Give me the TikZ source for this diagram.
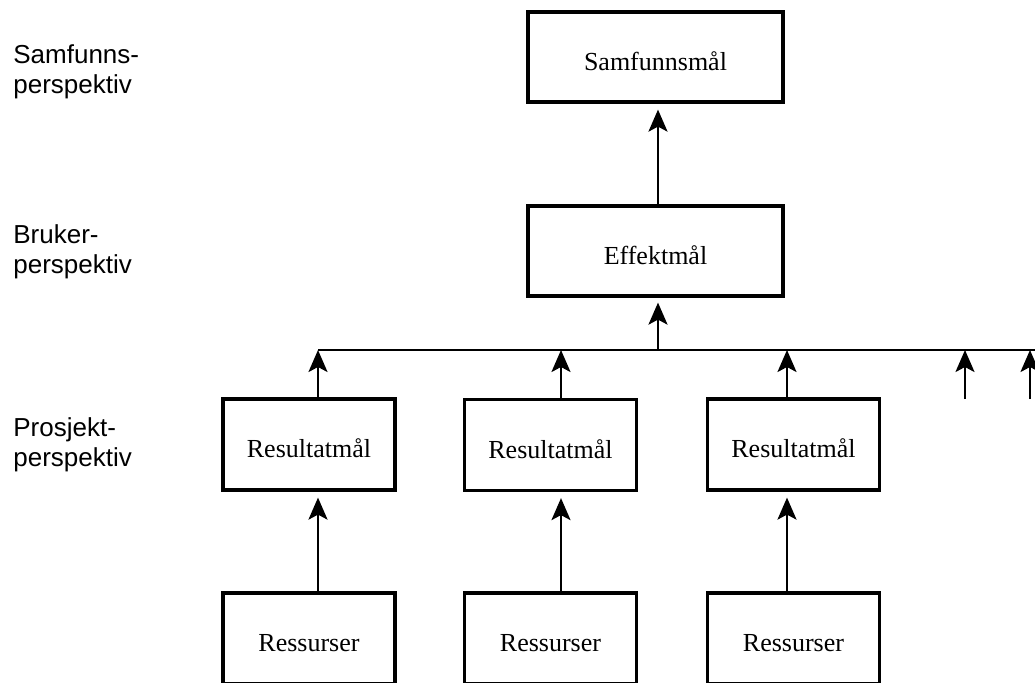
\documentclass[tikz,border=0pt]{standalone}
\usepackage{fontspec}
\setmainfont{Liberation Serif}
\newfontfamily\labelfont{Liberation Sans}
\usetikzlibrary{arrows.meta,calc}

\tikzset{
  goalbox/.style={draw, line width=1.6pt, inner sep=0pt,
    text height=13pt, text depth=0pt,
    font=\fontsize{13pt}{15pt}\selectfont},
  widebox/.style={goalbox, minimum width=127.5pt, minimum height=45pt},
  colbox/.style={goalbox, minimum width=86pt, minimum height=45.5pt},
  link/.style={line width=1.2pt},
  uparrow/.style={link, -{Stealth[length=11pt,width=9.5pt,inset=2.5pt]}},
  levellabel/.style={anchor=base west, align=left, inner sep=0pt,
    font=\labelfont\fontsize{13pt}{15pt}\selectfont}
}

\begin{document}
\begin{tikzpicture}[x=0.5pt, y=-0.5pt]
  \useasboundingbox (0,0) rectangle (1035,682);

  % perspective labels on the left (anchored at the baseline of the last line)
  \node[levellabel] (lsam) at (13,93)  {Samfunns-\\perspektiv};
  \node[levellabel] (lbru) at (13,273) {Bruker-\\perspektiv};
  \node[levellabel] (lpro) at (13,466) {Prosjekt-\\perspektiv};

  % goal hierarchy
  \node[widebox] (sam) at (655.5,57)  {Samfunnsmål};
  \node[widebox] (eff) at (655.5,251) {Effektmål};

  \node[colbox] (r1) at (309,444.5)   {Resultatmål};
  \node[colbox] (r2) at (550.5,445)   {Resultatmål};
  \node[colbox] (r3) at (793.5,444.5) {Resultatmål};

  \node[colbox] (s1) at (309,638.5)   {Ressurser};
  \node[colbox] (s2) at (550.5,638.5) {Ressurser};
  \node[colbox] (s3) at (793.5,638.5) {Ressurser};

  % collecting bus between results and effect
  \coordinate (busL) at (318,350);
  \coordinate (busR) at (1035,350);
  \coordinate (busE) at (658,350);
  \coordinate (more1) at (965,399);
  \coordinate (more2) at (1030,399);
  \draw[link] (busL) -- (busR);

  % attachment points on the boxes
  \coordinate (e1) at ($(eff.north)+(2.5,0)$);
  \coordinate (e2) at ($(sam.south)+(2.5,0)$);
  \coordinate (t1) at ($(r1.north)+(9,0)$);
  \coordinate (t2) at ($(r2.north)+(10.5,0)$);
  \coordinate (t3) at ($(r3.north)+(-6.5,0)$);
  \coordinate (b1) at ($(r1.south)+(9,0)$);
  \coordinate (b2) at ($(r2.south)+(10.5,0)$);
  \coordinate (b3) at ($(r3.south)+(-6.5,0)$);
  \coordinate (u1) at ($(s1.north)+(9,0)$);
  \coordinate (u2) at ($(s2.north)+(10.5,0)$);
  \coordinate (u3) at ($(s3.north)+(-6.5,0)$);

  % arrows upward
  \draw[uparrow, shorten >=3pt] (e1) -- (e2);
  \draw[uparrow, shorten >=2.5pt] (busE) -- (busE |- eff.south);

  \draw[uparrow] (t1) -- (t1 |- busL);
  \draw[uparrow] (t2) -- (t2 |- busL);
  \draw[uparrow] (t3) -- (t3 |- busL);
  \draw[uparrow] (more1) -- (more1 |- busL);
  \draw[uparrow] (more2) -- (more2 |- busL);

  \draw[uparrow, shorten >=3pt] (u1) -- (b1);
  \draw[uparrow, shorten >=3pt] (u2) -- (b2);
  \draw[uparrow, shorten >=3pt] (u3) -- (b3);
\end{tikzpicture}
\end{document}
